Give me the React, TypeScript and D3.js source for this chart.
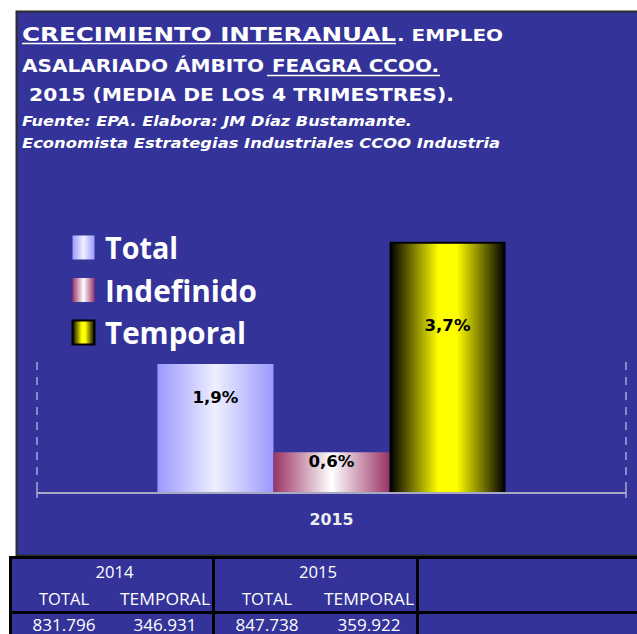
import React from 'react';
import * as d3 from 'd3';

// ---- Data ----
const categories = ['2015'];
const series = ['Total', 'Indefinido', 'Temporal'];
const values = [1.9, 0.6, 3.7];
const valueLabels = ['1,9%', '0,6%', '3,7%'];
const tableYears = ['2014', '2015'];
const tableHeaders = ['TOTAL', 'TEMPORAL'];
const tableValues = [
  ['831.796', '346.931'],
  ['847.738', '359.922'],
];

const W = 637;
const H = 634;
const BG = '#333399';

const gradIds = ['gTotal', 'gIndef', 'gTemp'];
const labelFrac = [0.26, 0.25, 0.335];
const legendFontW = [73, 152, 141];

export default function App() {
  const x0 = d3.scaleBand<string>().domain(categories).range([37, 626]).paddingInner(0).paddingOuter(0.346);
  const x1 = d3.scaleBand<string>().domain(series).range([0, x0.bandwidth()]).padding(0);
  const y = d3.scaleLinear().domain([0, 4]).range([493, 493 - 4 * 67.9]);

  const titleFont = '"DejaVu Sans", sans-serif';
  const calFont = '"Open Sans", sans-serif';

  // table layout
  const colX = [10.5, 213.5, 417.5, 640];
  const subCenters = [[64, 165], [267, 369]];

  return (
    <svg width={W} height={H} style={{ position: 'absolute', left: 0, top: 0 }} xmlns="http://www.w3.org/2000/svg">
      <defs>
        <linearGradient id="gTotal" x1="0" x2="1" y1="0" y2="0">
          <stop offset="0" stopColor="#9999ff" />
          <stop offset="0.5" stopColor="#efefff" />
          <stop offset="1" stopColor="#9999ff" />
        </linearGradient>
        <linearGradient id="gIndef" x1="0" x2="1" y1="0" y2="0">
          <stop offset="0" stopColor="#993366" />
          <stop offset="0.5" stopColor="#ffffff" />
          <stop offset="1" stopColor="#993366" />
        </linearGradient>
        <linearGradient id="gTemp" x1="0" x2="1" y1="0" y2="0">
          <stop offset="0" stopColor="#000000" />
          <stop offset="0.42" stopColor="#ffff00" />
          <stop offset="0.58" stopColor="#ffff00" />
          <stop offset="1" stopColor="#000000" />
        </linearGradient>
      </defs>
      <rect x={0} y={0} width={W} height={H} fill="#ffffff" />
      {/* chart panel */}
      <rect x={16.5} y={11.5} width={640} height={544} fill={BG} stroke="#2b2b2b" strokeWidth={2} />

      {/* Title */}
      <g fill="#ffffff" fontFamily={titleFont} fontWeight="bold">
        <text x={22} y={41} fontSize={20} textLength={374} lengthAdjust="spacingAndGlyphs">CRECIMIENTO INTERANUAL</text>
        <line x1={22} x2={396} y1={43.5} y2={43.5} stroke="#fff" strokeWidth={1.5} />
        <text x={397} y={41} fontSize={16} textLength={106} lengthAdjust="spacingAndGlyphs">. EMPLEO</text>
        <text x={22} y={72} fontSize={18.5} textLength={242} lengthAdjust="spacingAndGlyphs">ASALARIADO ÁMBITO</text>
        <text x={272} y={72} fontSize={18.5} textLength={167} lengthAdjust="spacingAndGlyphs">FEAGRA CCOO.</text>
        <line x1={267} x2={440} y1={75.5} y2={75.5} stroke="#fff" strokeWidth={1.5} />
        <text x={29} y={101} fontSize={18.5} textLength={425} lengthAdjust="spacingAndGlyphs">2015 (MEDIA DE LOS 4 TRIMESTRES).</text>
        <text x={22} y={126} fontSize={13.5} fontStyle="italic" textLength={390} lengthAdjust="spacingAndGlyphs">Fuente: EPA. Elabora: JM Díaz Bustamante.</text>
        <text x={22} y={148} fontSize={13.5} fontStyle="italic" textLength={478} lengthAdjust="spacingAndGlyphs">Economista  Estrategias Industriales CCOO Industria</text>
      </g>

      {/* gridlines / axis */}
      {[x0.range()[0], x0.range()[1]].map((gx, i) => (
        <g key={i} stroke="#a7a7e0" strokeWidth={1.5}>
          <line x1={gx} x2={gx} y1={362} y2={486} strokeDasharray="8 7" />
          <line x1={gx} x2={gx} y1={486} y2={498} stroke="#aaaac8" />
        </g>
      ))}

      {/* bars */}
      {categories.map((c) => (
        <g key={c} transform={`translate(${x0(c)},0)`}>
          {series.map((s, i) => {
            const bx = x1(s)!;
            const top = y(values[i]);
            const h = y(0) - top;
            const isTemp = i === 2;
            return (
              <g key={s}>
                <rect
                  x={bx + (isTemp ? 1 : 0)}
                  y={top + (isTemp ? 1 : 0)}
                  width={x1.bandwidth() - (isTemp ? 2 : 0)}
                  height={h - (isTemp ? 1 : 0)}
                  fill={`url(#${gradIds[i]})`}
                  stroke={isTemp ? '#000' : 'none'}
                  strokeWidth={isTemp ? 2 : 0}
                />
                <text
                  x={bx + x1.bandwidth() / 2}
                  y={top + h * labelFrac[i]}
                  textAnchor="middle"
                  dominantBaseline="central"
                  fontFamily={titleFont}
                  fontWeight="bold"
                  fontSize={15.5}
                  fill="#000"
                  textLength={46}
                  lengthAdjust="spacingAndGlyphs"
                >
                  {valueLabels[i]}
                </text>
              </g>
            );
          })}
          <text
            x={x0.bandwidth() / 2}
            y={524.5}
            textAnchor="middle"
            fontFamily={titleFont}
            fontWeight="bold"
            fontSize={15.5}
            fill="#eeeeee"
            textLength={44}
            lengthAdjust="spacingAndGlyphs"
          >
            {c}
          </text>
        </g>
      ))}
      <line x1={37} x2={626} y1={493} y2={493} stroke="#a9a9c4" strokeWidth={2} />

      {/* legend */}
      {series.map((s, i) => {
        const ly = 235 + i * 42.5;
        return (
          <g key={s}>
            <rect
              x={72.5}
              y={ly + 0.5}
              width={22}
              height={24}
              fill={`url(#${gradIds[i]})`}
              stroke={i === 2 ? '#000' : 'none'}
              strokeWidth={i === 2 ? 2 : 0}
            />
            <text
              x={105}
              y={ly + 24}
              fontFamily={calFont}
              fontWeight="bold"
              fontSize={30}
              fill="#ffffff"
              textLength={legendFontW[i]}
              lengthAdjust="spacingAndGlyphs"
            >
              {s}
            </text>
          </g>
        );
      })}

      {/* table */}
      <rect x={colX[0]} y={557.5} width={640} height={100} fill={BG} />
      <g stroke="#000" strokeWidth={3}>
        <line x1={colX[0]} x2={640} y1={557.5} y2={557.5} />
        <line x1={colX[0]} x2={640} y1={612.5} y2={612.5} />
        {colX.slice(0, 3).map((cx, i) => (
          <line key={i} x1={cx} x2={cx} y1={556} y2={640} />
        ))}
      </g>
      <g fill="#ffffff" fontFamily={calFont} fontSize={15.5} textAnchor="middle">
        {tableYears.map((yr, i) => (
          <g key={yr}>
            <text x={(subCenters[i][0] + subCenters[i][1]) / 2} y={577.5} textLength={38} lengthAdjust="spacingAndGlyphs">{yr}</text>
            {tableHeaders.map((hd, j) => (
              <text key={hd} x={subCenters[i][j]} y={605} textLength={j === 0 ? 50 : 90} lengthAdjust="spacingAndGlyphs">{hd}</text>
            ))}
            {tableValues[i].map((v, j) => (
              <text key={j} x={subCenters[i][j]} y={631} textLength={63} lengthAdjust="spacingAndGlyphs">{v}</text>
            ))}
          </g>
        ))}
      </g>
    </svg>
  );
}
